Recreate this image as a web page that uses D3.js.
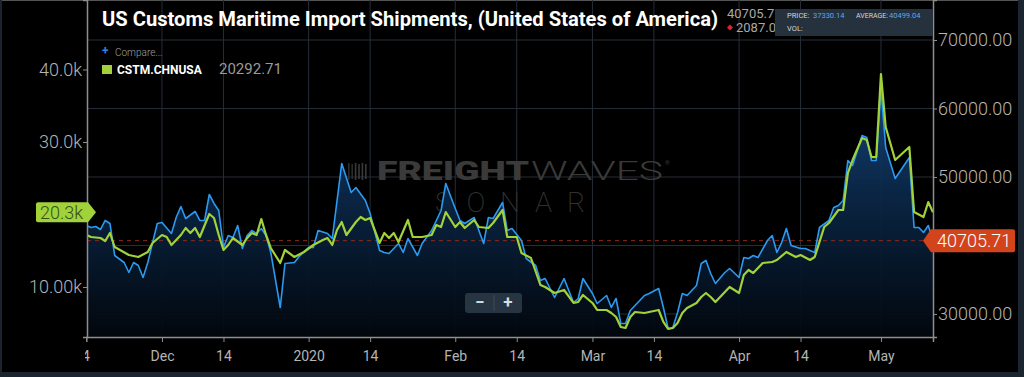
<!DOCTYPE html>
<html>
<head>
<meta charset="utf-8">
<script src="https://cdn.jsdelivr.net/npm/d3@7"></script>
<style>
  html, body { margin: 0; padding: 0; background: #1b2530; }
  svg { display: block; font-family: Roboto, "Noto Sans", sans-serif; }
</style>
</head>
<body>
<svg id="chart" width="1024" height="377"></svg>
<script>
// US import shipments (right axis, blue area)
const blueDates = [
  '2019-11-15','2019-11-16','2019-11-17','2019-11-18','2019-11-19','2019-11-20','2019-11-21','2019-11-23','2019-11-24','2019-11-25',
  '2019-11-26','2019-11-27','2019-11-28','2019-11-30','2019-12-01','2019-12-03','2019-12-04','2019-12-05','2019-12-06','2019-12-08',
  '2019-12-09','2019-12-10','2019-12-11','2019-12-12','2019-12-13','2019-12-14','2019-12-15','2019-12-16','2019-12-17','2019-12-18',
  '2019-12-19','2019-12-20','2019-12-21','2019-12-22','2019-12-23','2019-12-24','2019-12-26','2019-12-27','2019-12-29','2019-12-30',
  '2020-01-01','2020-01-02','2020-01-03','2020-01-05','2020-01-06','2020-01-08','2020-01-10','2020-01-11','2020-01-13','2020-01-14',
  '2020-01-16','2020-01-17','2020-01-18','2020-01-20','2020-01-21','2020-01-22','2020-01-24','2020-01-25','2020-01-27','2020-01-29',
  '2020-01-30','2020-02-01','2020-02-02','2020-02-03','2020-02-05','2020-02-07','2020-02-08','2020-02-09','2020-02-11','2020-02-12',
  '2020-02-13','2020-02-15','2020-02-16','2020-02-18','2020-02-19','2020-02-20','2020-02-22','2020-02-24','2020-02-26','2020-02-27',
  '2020-02-28','2020-03-01','2020-03-02','2020-03-04','2020-03-05','2020-03-06','2020-03-07','2020-03-08','2020-03-09','2020-03-10',
  '2020-03-12','2020-03-13','2020-03-15','2020-03-16','2020-03-17','2020-03-18','2020-03-19','2020-03-20','2020-03-21','2020-03-23',
  '2020-03-24','2020-03-25','2020-03-26','2020-03-27','2020-03-29','2020-03-30','2020-04-01','2020-04-02','2020-04-03','2020-04-04',
  '2020-04-05','2020-04-07','2020-04-08','2020-04-09','2020-04-10','2020-04-11','2020-04-12','2020-04-14','2020-04-15','2020-04-17',
  '2020-04-18','2020-04-20','2020-04-21','2020-04-22','2020-04-23','2020-04-24','2020-04-25','2020-04-27','2020-04-28','2020-04-29',
  '2020-04-30','2020-05-01','2020-05-02','2020-05-04','2020-05-07','2020-05-08','2020-05-09','2020-05-10','2020-05-11','2020-05-12',
];
const blueValues = [
  42920, 42628, 42774, 42336, 43650, 43212, 38540, 37518, 36058, 37518,
  37080, 35328, 37518, 43212, 43358, 41752, 44088, 45694, 43942, 44964,
  43650, 43650, 47446, 46132, 45110, 39708, 41460, 41168, 42920, 39562,
  41460, 42190, 41752, 42482, 41460, 38978, 30948, 37372, 37518, 38394,
  39708, 39708, 42190, 41752, 41022, 51972, 47738, 48468, 46570, 44672,
  39270, 38978, 38832, 40292, 38978, 41022, 38540, 40292, 42190, 45110,
  49052, 45402, 43650, 43212, 44088, 40292, 44088, 43942, 46278, 42190,
  42482, 40730, 38102, 37080, 34890, 35182, 32408, 35182, 31678, 32262,
  35182, 32992, 31532, 32700, 30948, 32262, 28612, 28612, 30510, 31240,
  32700, 32992, 33722, 30948, 27882, 28028, 30218, 32992, 32700, 34160,
  37372, 37810, 35912, 34452, 36058, 36642, 35328, 38248, 38102, 38540,
  38248, 40730, 41460, 38978, 40438, 42482, 40000, 39562, 39562, 38978,
  42628, 43650, 45548, 45840, 46570, 52410, 51680, 56060, 55768, 52410,
  52410, 62922, 54308, 49782, 52848, 42628, 42628, 41898, 42920, 40705.71,
];

// CSTM.CHNUSA (left axis, green line)
const greenDates = [
  '2019-11-15','2019-11-16','2019-11-18','2019-11-19','2019-11-20','2019-11-21','2019-11-24','2019-11-26','2019-11-28','2019-11-29',
  '2019-12-01','2019-12-02','2019-12-03','2019-12-05','2019-12-06','2019-12-07','2019-12-08','2019-12-09','2019-12-11','2019-12-12',
  '2019-12-13','2019-12-14','2019-12-15','2019-12-16','2019-12-18','2019-12-19','2019-12-20','2019-12-21','2019-12-22','2019-12-23',
  '2019-12-24','2019-12-26','2019-12-27','2019-12-29','2019-12-31','2020-01-02','2020-01-04','2020-01-05','2020-01-06','2020-01-07',
  '2020-01-08','2020-01-09','2020-01-11','2020-01-12','2020-01-13','2020-01-14','2020-01-16','2020-01-17','2020-01-18','2020-01-19',
  '2020-01-20','2020-01-22','2020-01-23','2020-01-25','2020-01-27','2020-01-28','2020-01-29','2020-01-30','2020-02-01','2020-02-02',
  '2020-02-03','2020-02-05','2020-02-06','2020-02-08','2020-02-09','2020-02-11','2020-02-12','2020-02-14','2020-02-15','2020-02-17',
  '2020-02-19','2020-02-20','2020-02-22','2020-02-24','2020-02-26','2020-02-27','2020-02-28','2020-03-01','2020-03-02','2020-03-04',
  '2020-03-05','2020-03-06','2020-03-07','2020-03-08','2020-03-09','2020-03-10','2020-03-12','2020-03-13','2020-03-15','2020-03-16',
  '2020-03-17','2020-03-18','2020-03-19','2020-03-20','2020-03-21','2020-03-23','2020-03-24','2020-03-25','2020-03-26','2020-03-27',
  '2020-03-29','2020-03-30','2020-04-01','2020-04-02','2020-04-03','2020-04-04','2020-04-06','2020-04-08','2020-04-09','2020-04-11',
  '2020-04-13','2020-04-14','2020-04-16','2020-04-17','2020-04-19','2020-04-20','2020-04-22','2020-04-23','2020-04-24','2020-04-25',
  '2020-04-27','2020-04-28','2020-04-29','2020-04-30','2020-05-01','2020-05-02','2020-05-04','2020-05-07','2020-05-08','2020-05-10',
  '2020-05-11','2020-05-12',
];
const greenValues = [
  17171, 16895, 16757, 16343, 17447, 15516, 14413, 14137, 14827, 16068,
  17171, 16895, 15792, 17171, 18136, 17447, 18136, 16895, 20067, 19515,
  17171, 15102, 15792, 16757, 15792, 16757, 17447, 17171, 19377, 17171,
  15378, 13310, 15102, 14137, 14827, 15792, 16481, 16757, 15792, 17860,
  18964, 17171, 18964, 19653, 19239, 19515, 16068, 17447, 16757, 17447,
  16206, 19239, 16895, 16895, 17171, 18550, 18274, 20343, 18274, 18964,
  18136, 19239, 18274, 18136, 18826, 20618, 16895, 16895, 14689, 13999,
  10276, 10000, 9173, 9586, 7794, 7932, 8897, 7794, 6828, 6828,
  6415, 5863, 4484, 4346, 5863, 6553, 6415, 6553, 6828, 5174,
  4208, 4346, 5036, 6415, 7104, 7794, 8621, 9173, 8621, 7932,
  9311, 10000, 9173, 11655, 12344, 11931, 13310, 13448, 13723, 14827,
  14137, 14413, 13723, 14137, 18274, 18826, 20618, 20618, 25721, 27513,
  30547, 30271, 27927, 27927, 39373, 32064, 27513, 29306, 20343, 19653,
  21722, 20292.71,
];

const xTickDates = ['2019-11-14', '2019-12-01', '2019-12-14', '2020-01-01', '2020-01-14', '2020-02-01',
  '2020-02-14', '2020-03-01', '2020-03-14', '2020-04-01', '2020-04-14', '2020-05-01'];
const xTickLabels = ['14', 'Dec', '14', '2020', '14', 'Feb', '14', 'Mar', '14', 'Apr', '14', 'May'];
// 20.0k and 40000.00 sit under the last-value tags, so only these labels show
const leftTicks = [10000, 30000, 40000];
const leftTickLabels = ['10.00k', '30.0k', '40.0k'];
const rightTicks = [30000, 50000, 60000, 70000];
const gridTicks = [30000, 40000, 50000, 60000, 70000];

const COLORS = {
  blue: '#2b9af0',
  green: '#a2d23a',
  grid: '#252e38',
  axis: '#8e8e8e',
  text: '#b4b4b4',
  red: '#d2441b',
};

const parse = d3.utcParse('%Y-%m-%d');
const plot = { left: 87, right: 933, top: 0, bottom: 337 };
const svg = d3.select('#chart');

const x = d3.scaleUtc()
  .domain([parse('2019-11-15'), parse('2020-05-12')])
  .range([plot.left - 0.7, plot.right]);
const yL = d3.scaleLinear().domain([3100, 49590]).range([plot.bottom, plot.top]);
const yR = d3.scaleLinear().domain([26640, 75840]).range([plot.bottom, plot.top]);

const blue = blueDates.map((d, i) => ({ date: parse(d), value: blueValues[i] }));
const green = greenDates.map((d, i) => ({ date: parse(d), value: greenValues[i] }));
const lastBlue = blue[blue.length - 1].value;
const lastGreen = green[green.length - 1].value;

const defs = svg.append('defs');
defs.append('clipPath').attr('id', 'plotClip')
  .append('rect').attr('x', plot.left).attr('y', plot.top)
  .attr('width', plot.right - plot.left).attr('height', plot.bottom - plot.top);
defs.append('clipPath').attr('id', 'xAxisClip')
  .append('rect').attr('x', 85).attr('y', -10).attr('width', 900).attr('height', 40);
const grad = defs.append('linearGradient').attr('id', 'areaGrad')
  .attr('gradientUnits', 'userSpaceOnUse').attr('x1', 0).attr('x2', 0).attr('y1', 70).attr('y2', plot.bottom);
grad.append('stop').attr('offset', 0).attr('stop-color', '#174d8c');
grad.append('stop').attr('offset', 0.45).attr('stop-color', '#0b2849');
grad.append('stop').attr('offset', 1).attr('stop-color', '#02070e');

// panel
svg.append('rect').attr('x', 2).attr('y', 0).attr('width', 1016).attr('height', 372).attr('fill', '#000');
svg.append('line').attr('x1', 2).attr('x2', 1018).attr('y1', 0.5).attr('y2', 0.5).attr('stroke', '#555');

// grid
svg.append('g').selectAll('line')
  .data(xTickDates.map(parse).filter((d) => x(d) > plot.left))
  .enter().append('line')
  .attr('x1', (d) => x(d)).attr('x2', (d) => x(d))
  .attr('y1', plot.top).attr('y2', plot.bottom)
  .attr('stroke', COLORS.grid);
svg.append('g').selectAll('line')
  .data(gridTicks)
  .enter().append('line')
  .attr('x1', plot.left).attr('x2', plot.right)
  .attr('y1', (d) => yR(d)).attr('y2', (d) => yR(d))
  .attr('stroke', COLORS.grid);

// watermark
const wm = svg.append('g').attr('fill', '#3a3a3a');
for (let i = 0; i < 6; i += 1) {
  wm.append('rect').attr('x', 348 + i * 3.4).attr('y', 163 + (i % 2)).attr('width', 1.6)
    .attr('height', 17 - (i % 2) * 2).attr('fill', i < 2 ? '#2c2c2c' : '#3a3a3a');
}
wm.append('text').attr('x', 377).attr('y', 180).attr('font-size', 25).attr('font-weight', 900)
  .attr('textLength', 152).attr('lengthAdjust', 'spacingAndGlyphs').text('FREIGHT');
wm.append('text').attr('x', 531).attr('y', 180).attr('font-size', 25).attr('font-weight', 300)
  .attr('textLength', 132).attr('lengthAdjust', 'spacingAndGlyphs').text('WAVES');
wm.append('text').attr('x', 665).attr('y', 165).attr('font-size', 6).text('®');
wm.append('text').attr('x', 435).attr('y', 212).attr('font-size', 28).attr('font-weight', 200)
  .attr('fill', '#303030').attr('textLength', 150).attr('lengthAdjust', 'spacing').text('SONAR');

// series
const plotG = svg.append('g').attr('clip-path', 'url(#plotClip)');
plotG.append('path').datum(blue)
  .attr('fill', 'url(#areaGrad)').attr('opacity', 0.95)
  .attr('d', d3.area().x((d) => x(d.date)).y0(plot.bottom).y1((d) => yR(d.value)));
plotG.append('line')
  .attr('x1', plot.left).attr('x2', plot.right)
  .attr('y1', yR(lastBlue)).attr('y2', yR(lastBlue))
  .attr('stroke', '#8c2a18').attr('stroke-dasharray', '4,4').attr('stroke-width', 1);
plotG.append('path').datum(blue)
  .attr('fill', 'none').attr('stroke', COLORS.blue).attr('stroke-width', 1.6).attr('stroke-linejoin', 'round')
  .attr('d', d3.line().x((d) => x(d.date)).y((d) => yR(d.value)));
plotG.append('path').datum(green)
  .attr('fill', 'none').attr('stroke', COLORS.green).attr('stroke-width', 2.2).attr('stroke-linejoin', 'round')
  .attr('d', d3.line().x((d) => x(d.date)).y((d) => yL(d.value)));

// axes
function styleAxis(g, size) {
  g.select('.domain').attr('stroke', COLORS.axis).attr('stroke-width', 1.5);
  g.selectAll('.tick line').attr('stroke', COLORS.axis);
  g.selectAll('.tick text').attr('fill', COLORS.text).attr('font-size', size).attr('font-weight', 300)
    .attr('font-family', 'Roboto, sans-serif');
}

const xAxis = svg.append('g')
  .attr('transform', `translate(0,${plot.bottom})`)
  .attr('clip-path', 'url(#xAxisClip)')
  .call(d3.axisBottom(x).tickValues(xTickDates.map(parse))
    .tickFormat((d, i) => xTickLabels[i]).tickSizeOuter(0).tickSize(5).tickPadding(9));
styleAxis(xAxis, 14);
xAxis.selectAll('.tick text').attr('font-weight', 400);

const leftAxis = svg.append('g')
  .attr('transform', `translate(${plot.left},0)`)
  .call(d3.axisLeft(yL).tickValues(leftTicks)
    .tickFormat((d, i) => leftTickLabels[i]).tickSizeOuter(0).tickSize(4).tickPadding(1));
styleAxis(leftAxis, 18);

const rightAxis = svg.append('g')
  .attr('transform', `translate(${plot.right},0)`)
  .call(d3.axisRight(yR).tickValues(rightTicks)
    .tickFormat(d3.format('.2f')).tickSizeOuter(0).tickSize(4).tickPadding(1));
styleAxis(rightAxis, 18);

// last value tags
const gy = yL(lastGreen);
svg.append('path')
  .attr('d', `M38,${gy - 10} H88 L96,${gy} L88,${gy + 10} H38 Q36,${gy + 10} 36,${gy + 8} V${gy - 8} Q36,${gy - 10} 38,${gy - 10} Z`)
  .attr('fill', COLORS.green);
svg.append('text').attr('x', 40).attr('y', gy + 6.5).attr('font-size', 18).attr('font-weight', 300)
  .attr('fill', '#34501a').text(`${d3.format('.1f')(lastGreen / 1000)}k`);

const by = yR(lastBlue);
svg.append('path')
  .attr('d', `M923,${by} L931,${by - 11.5} H1013 Q1015,${by - 11.5} 1015,${by - 9.5} V${by + 9.5} Q1015,${by + 11.5} 1013,${by + 11.5} H931 Z`)
  .attr('fill', COLORS.red);
svg.append('text').attr('x', 937).attr('y', by + 6.5).attr('font-size', 18).attr('font-weight', 300)
  .attr('fill', '#fff').text(d3.format('.2f')(lastBlue));

// title and header values
svg.append('text').attr('x', 102).attr('y', 26).attr('font-size', 20).attr('font-weight', 700)
  .attr('fill', '#fff').attr('textLength', 616).attr('lengthAdjust', 'spacingAndGlyphs')
  .text('US Customs Maritime Import Shipments, (United States of America)');
svg.append('text').attr('x', 727).attr('y', 18).attr('font-size', 13).attr('fill', '#a8a8a8')
  .text(d3.format('.2f')(lastBlue));
svg.append('path').attr('d', 'M730,24.5 L733,27.5 L730,30.5 L727,27.5 Z').attr('fill', '#e0242a');
svg.append('text').attr('x', 736).attr('y', 32).attr('font-size', 13).attr('fill', '#a8a8a8').text('2087.0');

// hover readout box
const tip = svg.append('g');
tip.append('rect').attr('x', 775).attr('y', 9).attr('width', 158).attr('height', 27).attr('fill', '#25313c');
tip.append('text').attr('x', 787).attr('y', 18).attr('font-size', 7.5).attr('fill', '#d6d6d6').text('PRICE:');
tip.append('text').attr('x', 813).attr('y', 18).attr('font-size', 7.5).attr('fill', '#5fa8ea').text('37330.14');
tip.append('text').attr('x', 856).attr('y', 18).attr('font-size', 7.5).attr('fill', '#d6d6d6')
  .attr('textLength', 32).attr('lengthAdjust', 'spacingAndGlyphs').text('AVERAGE:');
tip.append('text').attr('x', 889).attr('y', 18).attr('font-size', 7.5).attr('fill', '#5fa8ea').text('40499.04');
tip.append('text').attr('x', 787).attr('y', 31).attr('font-size', 7.5).attr('fill', '#d6d6d6').text('VOL:');

// legend
svg.append('text').attr('x', 102).attr('y', 55).attr('font-size', 12).attr('font-weight', 700)
  .attr('fill', '#2f7fe0').text('+');
svg.append('text').attr('x', 115).attr('y', 56).attr('font-size', 10).attr('font-weight', 300)
  .attr('fill', '#a0a0a0').text('Compare...');
svg.append('rect').attr('x', 102).attr('y', 65).attr('width', 10).attr('height', 9).attr('fill', COLORS.green);
svg.append('text').attr('x', 117).attr('y', 73.5).attr('font-size', 12).attr('font-weight', 700)
  .attr('fill', '#fff').text('CSTM.CHNUSA');
svg.append('text').attr('x', 219).attr('y', 74).attr('font-size', 15).attr('fill', '#9a9a9a')
  .text(d3.format('.2f')(lastGreen));

// zoom buttons
const zoom = svg.append('g');
zoom.append('rect').attr('x', 465).attr('y', 293).attr('width', 57).attr('height', 20).attr('rx', 3)
  .attr('fill', '#2b3a47').attr('opacity', 0.9);
zoom.append('line').attr('x1', 494).attr('x2', 494).attr('y1', 295).attr('y2', 311).attr('stroke', '#3e4d5a');
zoom.append('text').attr('x', 480).attr('y', 308).attr('text-anchor', 'middle').attr('font-size', 17)
  .attr('font-weight', 700).attr('fill', '#d8dde2').text('−');
zoom.append('text').attr('x', 508).attr('y', 308).attr('text-anchor', 'middle').attr('font-size', 17)
  .attr('font-weight', 700).attr('fill', '#d8dde2').text('+');
</script>
</body>
</html>
